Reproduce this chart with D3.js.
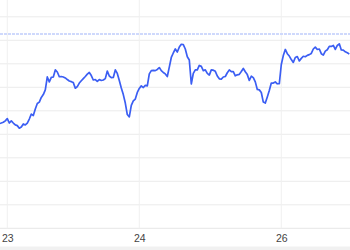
<!DOCTYPE html>
<html>
<head>
<meta charset="utf-8">
<script src="https://cdn.jsdelivr.net/npm/d3@7"></script>
<style>
  body { margin: 0; background: #fff; }
  svg { display: block; }
</style>
</head>
<body>
<svg id="chart" viewBox="0 0 350 250" width="350" height="250"></svg>
<script>
// intraday prices, one sample per bar index
const prices = [
  104.46, 104.48, 104.51, 104.57, 104.67, 104.48, 104.57, 104.48, 104.40, 104.37,
  104.26, 104.31, 104.44, 104.40, 104.48, 104.65, 104.86, 104.80, 105.08, 105.31,
  105.37, 105.57, 105.69, 105.89, 106.44, 106.23, 106.42, 106.44, 106.74, 106.65,
  106.45, 106.46, 106.44, 106.40, 106.33, 106.27, 106.24, 106.20, 105.96, 106.03,
  106.18, 106.28, 106.37, 106.46, 106.56, 106.63, 106.50, 106.31, 106.33, 106.25,
  106.33, 106.29, 106.31, 106.37, 106.69, 106.48, 106.41, 106.42, 106.74, 106.59,
  106.29, 105.97, 105.69, 105.33, 104.84, 104.74, 105.23, 105.42, 105.50, 105.78,
  105.95, 106.06, 105.99, 106.08, 106.06, 106.57, 106.71, 106.72, 106.71, 106.76,
  106.84, 106.71, 106.63, 106.57, 106.46, 106.86, 107.27, 107.46, 107.63, 107.50,
  107.71, 107.83, 107.82, 107.63, 107.30, 107.16, 106.14, 106.59, 106.74, 106.74,
  106.93, 106.89, 106.71, 106.74, 106.59, 106.52, 106.74, 106.73, 106.68, 106.48,
  106.36, 106.35, 106.44, 106.46, 106.62, 106.74, 106.67, 106.67, 106.49, 106.53,
  106.55, 106.67, 106.80, 106.66, 106.54, 106.29, 106.47, 106.41, 106.23, 105.91,
  105.89, 105.78, 105.37, 105.33, 105.59, 105.86, 106.18, 106.18, 106.23, 106.15,
  106.16, 106.97, 107.35, 107.61, 107.43, 107.33, 107.18, 107.06, 107.27, 107.31,
  107.12, 107.23, 107.32, 107.30, 107.36, 107.39, 107.44, 107.63, 107.71, 107.61,
  107.63, 107.43, 107.37, 107.54, 107.60, 107.74, 107.74, 107.78, 107.61, 107.78,
  107.85, 107.59, 107.58, 107.51, 107.47, 107.42
];

// day labels and the bar index where each day starts
const dayLabels = ["23", "24", "26"];
const dayIndex = [4, 70, 141];

// horizontal grid levels and reference price
const gridLevels = [100, 101, 102, 103, 104, 105, 106, 107, 108, 109];
const refPrice = 108.27;

const width = 350;
const height = 250;
const plotBottom = 228.3;

const svgEl = d3.select("#chart");

const xScale = d3.scaleLinear()
  .domain([0, prices.length - 1])
  .range([-0.7, 349.3]);

const yScale = d3.scaleLinear()
  .domain([100, 109])
  .range([plotBottom, 16.8]);

// grey strip under the axis
svgEl.append("rect")
  .attr("x", 0)
  .attr("y", 246.5)
  .attr("width", width)
  .attr("height", height - 246.5)
  .attr("fill", "#f1f1f1");

const gridG = svgEl.append("g").attr("class", "grid");

gridG.selectAll("line.h")
  .data(gridLevels)
  .enter()
  .append("line")
  .attr("class", "h")
  .attr("x1", 0)
  .attr("x2", width)
  .attr("y1", (d) => yScale(d))
  .attr("y2", (d) => yScale(d))
  .attr("stroke", (d, i) => (i === 0 ? "#e6e6e6" : "#ececec"))
  .attr("stroke-width", 1);

gridG.selectAll("line.v")
  .data(dayIndex)
  .enter()
  .append("line")
  .attr("class", "v")
  .attr("x1", (d) => xScale(d))
  .attr("x2", (d) => xScale(d))
  .attr("y1", 0)
  .attr("y2", plotBottom)
  .attr("stroke", "#f0f0f0")
  .attr("stroke-width", 1);

// reference line
svgEl.append("line")
  .attr("x1", 0)
  .attr("x2", width)
  .attr("y1", yScale(refPrice))
  .attr("y2", yScale(refPrice))
  .attr("stroke", "#cfd9fc")
  .attr("stroke-width", 2)
  .attr("stroke-dasharray", "3 1");

const line = d3.line()
  .x((d, i) => xScale(i))
  .y((d) => yScale(d));

svgEl.append("path")
  .datum(prices)
  .attr("d", line)
  .attr("fill", "none")
  .attr("stroke", "#3b5ef3")
  .attr("stroke-width", 1.7)
  .attr("stroke-linejoin", "round");

// x axis labels
const xAxis = d3.axisBottom(xScale)
  .tickValues(dayIndex)
  .tickFormat((d, i) => dayLabels[i])
  .tickSize(0)
  .tickPadding(6);

const axisG = svgEl.append("g")
  .attr("transform", `translate(0 ${plotBottom})`)
  .call(xAxis);

axisG.select(".domain").remove();
axisG.selectAll("text")
  .attr("fill", "#444")
  .style("font-family", "'Liberation Sans', Arial, sans-serif")
  .style("font-size", "10.5px");
</script>
</body>
</html>
